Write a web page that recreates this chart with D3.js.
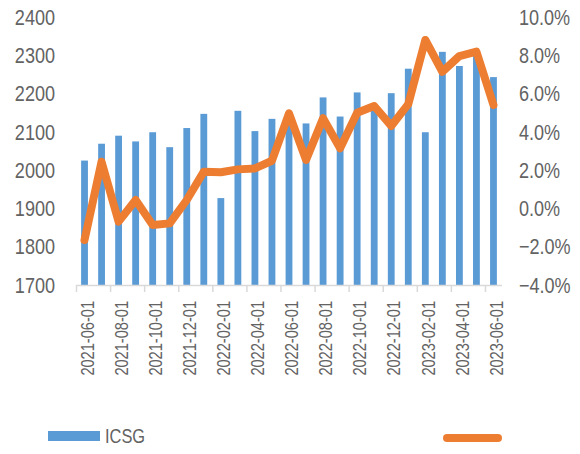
<!DOCTYPE html>
<html>
<head>
<meta charset="utf-8">
<script src="https://cdn.jsdelivr.net/npm/d3@7"></script>
<style>
  html, body { margin: 0; padding: 0; background: #fff; }
  svg text { font-family: "Liberation Sans", Arial, sans-serif; fill: #636363; }
</style>
</head>
<body>
<svg id="chart" width="580" height="454"></svg>
<script>
const months = ["2021-06-01","2021-07-01","2021-08-01","2021-09-01","2021-10-01","2021-11-01","2021-12-01",
  "2022-01-01","2022-02-01","2022-03-01","2022-04-01","2022-05-01","2022-06-01","2022-07-01","2022-08-01",
  "2022-09-01","2022-10-01","2022-11-01","2022-12-01","2023-01-01","2023-02-01","2023-03-01","2023-04-01",
  "2023-05-01","2023-06-01"];
const icsg = [2025,2069,2090,2075,2099,2060,2110,2147,1927,2155,2102,2134,2125,2122,2190,2140,2203,2160,2201,2265,2099,2309,2272,2302,2243];
const growth = [-1.65,2.44,-0.69,0.44,-0.87,-0.78,0.44,1.92,1.89,2.04,2.09,2.49,4.97,2.53,4.71,3.14,5.00,5.35,4.31,5.45,8.80,7.14,7.96,8.19,5.40];
const leftTicks = [1700,1800,1900,2000,2100,2200,2300,2400];
const rightTicks = [-4,-2,0,2,4,6,8,10];
const seriesName = "ICSG";

const svg = d3.select("#chart");
const plot = {left: 76, right: 502, top: 17, bottom: 285};
const condense = 0.82;

function narrow(sel) {
  sel.each(function() {
    const len = this.getComputedTextLength();
    d3.select(this).attr("textLength", len * condense).attr("lengthAdjust", "spacingAndGlyphs");
  });
}

const x = d3.scaleBand().domain(months).range([plot.left, plot.right]).paddingInner(0.6).paddingOuter(0.3);
const yL = d3.scaleLinear().domain([1700, 2400]).range([plot.bottom, plot.top]);
const yR = d3.scaleLinear().domain([-4, 10]).range([plot.bottom, plot.top]);

// bars
svg.append("g").selectAll("rect").data(icsg).join("rect")
  .attr("x", (d, i) => x(months[i]))
  .attr("width", x.bandwidth())
  .attr("y", d => yL(d))
  .attr("height", d => yL(1700) - yL(d))
  .attr("fill", "#5B9BD5");

// x axis line and ticks
svg.append("line").attr("x1", plot.left).attr("x2", plot.right)
  .attr("y1", plot.bottom + 0.5).attr("y2", plot.bottom + 0.5)
  .attr("stroke", "#D9D9D9").attr("stroke-width", 1.5);
const tickIdx = months.map((m, i) => i).filter(i => i % 2 === 0);
svg.append("g").selectAll("line").data(tickIdx).join("line")
  .attr("x1", i => x(months[i]) - x.bandwidth() * 0.75 + 0.5)
  .attr("x2", i => x(months[i]) - x.bandwidth() * 0.75 + 0.5)
  .attr("y1", plot.bottom).attr("y2", plot.bottom + 7)
  .attr("stroke", "#D9D9D9").attr("stroke-width", 1.5);

// x labels
svg.append("g").selectAll("text").data(tickIdx).join("text")
  .attr("transform", i => `translate(${x(months[i]) + x.bandwidth() / 2 + 3},${plot.bottom + 16}) rotate(-90)`)
  .attr("text-anchor", "end")
  .attr("dy", "0.35em")
  .style("font-size", "17.8px")
  .text(i => months[i])
  .call(narrow);

// left axis labels
svg.append("g").selectAll("text").data(leftTicks).join("text")
  .attr("x", 55).attr("y", d => yL(d)).attr("dy", "0.35em")
  .attr("text-anchor", "end").style("font-size", "22px")
  .text(d => d)
  .call(narrow);

// right axis labels
svg.append("g").selectAll("text").data(rightTicks).join("text")
  .attr("x", 519).attr("y", d => yR(d)).attr("dy", "0.35em")
  .attr("text-anchor", "start").style("font-size", "22px")
  .text(d => d3.format(".1f")(d) + "%")
  .call(narrow);

// line
const line = d3.line().x((d, i) => x(months[i]) + x.bandwidth() / 2).y(d => yR(d));
svg.append("path").datum(growth).attr("d", line)
  .attr("fill", "none").attr("stroke", "#ED7D31").attr("stroke-width", 8)
  .attr("stroke-linejoin", "round").attr("stroke-linecap", "round");

// legend
svg.append("rect").attr("x", 48).attr("y", 431).attr("width", 52).attr("height", 10).attr("fill", "#5B9BD5");
svg.append("text").attr("x", 105).attr("y", 443).style("font-size", "20px").text(seriesName).call(narrow);
svg.append("line").attr("x1", 447).attr("x2", 498).attr("y1", 438).attr("y2", 438)
  .attr("stroke", "#ED7D31").attr("stroke-width", 8).attr("stroke-linecap", "round");
</script>
</body>
</html>
